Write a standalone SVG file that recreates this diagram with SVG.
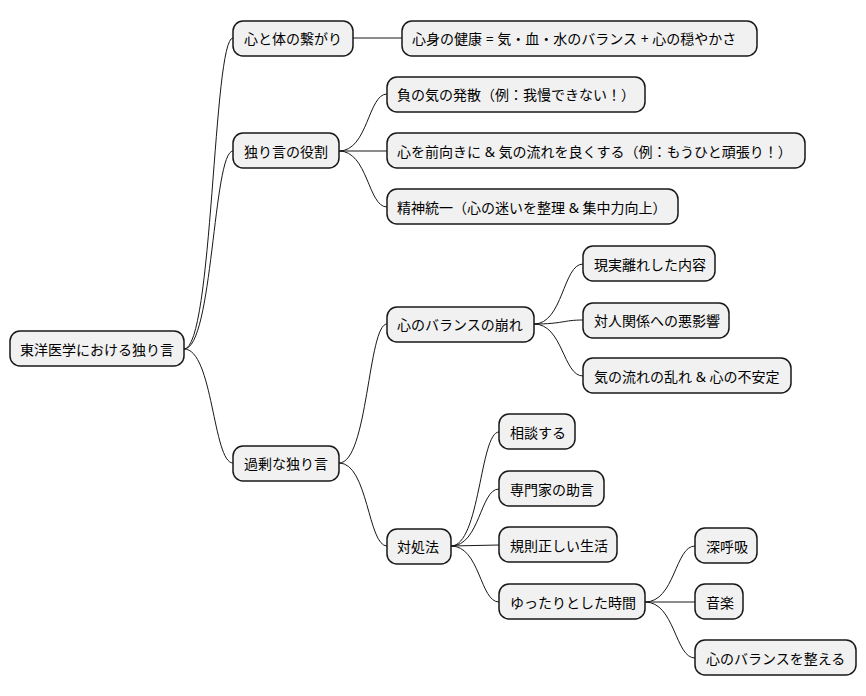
<svg xmlns="http://www.w3.org/2000/svg" width="866" height="696" viewBox="0 0 866 696">
<style>
rect{fill:#f1f1f1;stroke:#181818;stroke-width:1.5}
rect.bg{fill:#fff;stroke:none}
text{font-family:"Noto Sans","Noto Sans CJK JP",sans-serif;font-size:14px;fill:#000;dominant-baseline:central}
path{fill:none;stroke:#181818;stroke-width:1}
</style>
<rect class="bg" width="866" height="696"/>
<g id="connectors">
<path d="M184,349 C213,349 213,38 233,38"/>
<path d="M184,349 C213,349 213,151 233,151"/>
<path d="M184,349 C213,349 213,463 233,463"/>
<path d="M353,38 L402,38"/>
<path d="M339,151 C368,151 368,94 387,94"/>
<path d="M339,151 L387,151"/>
<path d="M339,151 C368,151 368,207 387,207"/>
<path d="M339,463 C368,463 368,324 387,324"/>
<path d="M339,463 C368,463 368,546 387,546"/>
<path d="M534,324 C563,324 563,264 583,264"/>
<path d="M534,324 C563,324 563,320 583,320"/>
<path d="M534,324 C563,324 563,376 583,376"/>
<path d="M451,546 C480,546 480,432 499,432"/>
<path d="M451,546 C480,546 480,489 499,489"/>
<path d="M451,546 L499,545"/>
<path d="M451,546 C480,546 480,602 499,602"/>
<path d="M645,602 C675,602 675,546 695,546"/>
<path d="M645,602 L695,602"/>
<path d="M645,602 C675,602 675,658 695,658"/>
</g>
<g id="root"><rect x="10" y="331" width="174" height="35" rx="10"/><text x="20" y="349">東洋医学における独り言</text></g>
<g id="n1"><rect x="233" y="21" width="120" height="35" rx="10"/><text x="244" y="38">心と体の繋がり</text></g>
<g id="n1a"><rect x="402" y="21" width="355" height="35" rx="10"/><text x="412" y="38">心身の健康 = 気・血・水のバランス + 心の穏やかさ</text></g>
<g id="n2"><rect x="233" y="133" width="106" height="35" rx="10"/><text x="244" y="151">独り言の役割</text></g>
<g id="n2a"><rect x="387" y="77" width="258" height="35" rx="10"/><text x="397" y="94">負の気の発散（例：我慢できない！）</text></g>
<g id="n2b"><rect x="387" y="133" width="418" height="35" rx="10"/><text x="397" y="151">心を前向きに &amp; 気の流れを良くする（例：もうひと頑張り！）</text></g>
<g id="n2c"><rect x="387" y="189" width="291" height="35" rx="10"/><text x="397" y="207">精神統一（心の迷いを整理 &amp; 集中力向上）</text></g>
<g id="n3"><rect x="233" y="446" width="106" height="35" rx="10"/><text x="244" y="463">過剰な独り言</text></g>
<g id="n3a"><rect x="387" y="307" width="147" height="35" rx="10"/><text x="397" y="324">心のバランスの崩れ</text></g>
<g id="n3a1"><rect x="583" y="246" width="132" height="35" rx="10"/><text x="594" y="264">現実離れした内容</text></g>
<g id="n3a2"><rect x="583" y="303" width="146" height="35" rx="10"/><text x="594" y="320">対人関係への悪影響</text></g>
<g id="n3a3"><rect x="583" y="358" width="208" height="35" rx="10"/><text x="594" y="376">気の流れの乱れ &amp; 心の不安定</text></g>
<g id="n3b"><rect x="387" y="529" width="64" height="35" rx="10"/><text x="397" y="546">対処法</text></g>
<g id="n3b1"><rect x="499" y="414" width="76" height="35" rx="10"/><text x="510" y="432">相談する</text></g>
<g id="n3b2"><rect x="499" y="471" width="105" height="35" rx="10"/><text x="510" y="489">専門家の助言</text></g>
<g id="n3b3"><rect x="499" y="527" width="118" height="35" rx="10"/><text x="510" y="545">規則正しい生活</text></g>
<g id="n3b4"><rect x="499" y="584" width="146" height="35" rx="10"/><text x="510" y="602">ゆったりとした時間</text></g>
<g id="n3b4a"><rect x="695" y="528" width="62" height="35" rx="10"/><text x="706" y="546">深呼吸</text></g>
<g id="n3b4b"><rect x="695" y="584" width="48" height="35" rx="10"/><text x="706" y="602">音楽</text></g>
<g id="n3b4c"><rect x="695" y="640" width="161" height="35" rx="10"/><text x="706" y="658">心のバランスを整える</text></g>
</svg>
